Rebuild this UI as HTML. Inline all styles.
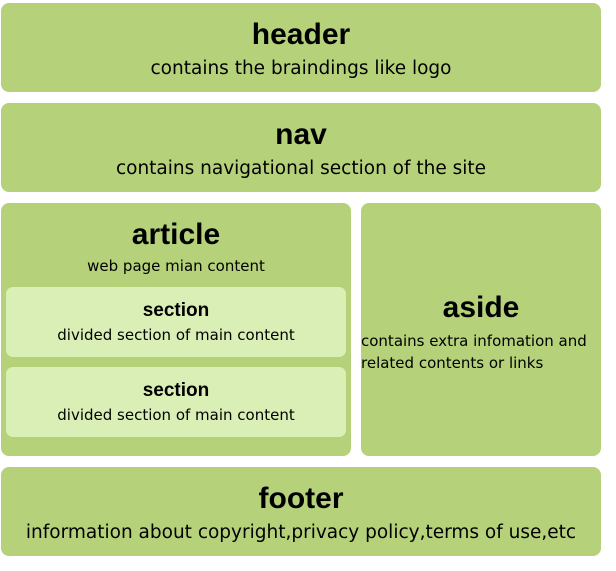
<!DOCTYPE html>
<html><head><meta charset="utf-8"><style>
body{margin:0;width:616px;height:571px;background:#fff;position:relative;font-family:"DejaVu Sans",sans-serif;color:#000;overflow:hidden}
.b{position:absolute;background:#b5d17a;border-radius:8px}
.s{position:absolute;background:#d9efb5;border-radius:7px}
.t{position:absolute;left:0;right:0;text-align:center;white-space:nowrap}
.h{font-size:30px;font-weight:bold;font-family:"Liberation Sans",sans-serif}
.m{font-size:18.5px}
.n{font-size:15px}
</style></head><body>
<div class="b" style="left:1px;top:3px;width:600px;height:89px">
 <div class="t h" style="top:15px">header</div>
 <div class="t m" style="top:55px">contains the braindings like logo</div>
</div>
<div class="b" style="left:1px;top:103px;width:600px;height:89px">
 <div class="t h" style="top:15px">nav</div>
 <div class="t m" style="top:55px">contains navigational section of the site</div>
</div>
<div class="b" style="left:1px;top:203px;width:350px;height:253px">
 <div class="t h" style="top:15px">article</div>
 <div class="t n" style="top:54px">web page mian content</div>
 <div class="s" style="left:5px;top:84px;width:340px;height:70px">
  <div class="t m" style="top:13px;font-weight:bold;font-family:'Liberation Sans',sans-serif;font-size:19px">section</div>
  <div class="t n" style="top:39px">divided section of main content</div>
 </div>
 <div class="s" style="left:5px;top:164px;width:340px;height:70px">
  <div class="t m" style="top:13px;font-weight:bold;font-family:'Liberation Sans',sans-serif;font-size:19px">section</div>
  <div class="t n" style="top:39px">divided section of main content</div>
 </div>
</div>
<div class="b" style="left:361px;top:203px;width:240px;height:253px">
 <div class="t h" style="top:88px">aside</div>
 <div class="n" style="position:absolute;left:0;top:127px;line-height:22px;white-space:nowrap">contains extra infomation and<br>related contents or links</div>
</div>
<div class="b" style="left:1px;top:467px;width:600px;height:89px">
 <div class="t h" style="top:15px">footer</div>
 <div class="t m" style="top:55px">information about copyright,privacy policy,terms of use,etc</div>
</div>
</body></html>
